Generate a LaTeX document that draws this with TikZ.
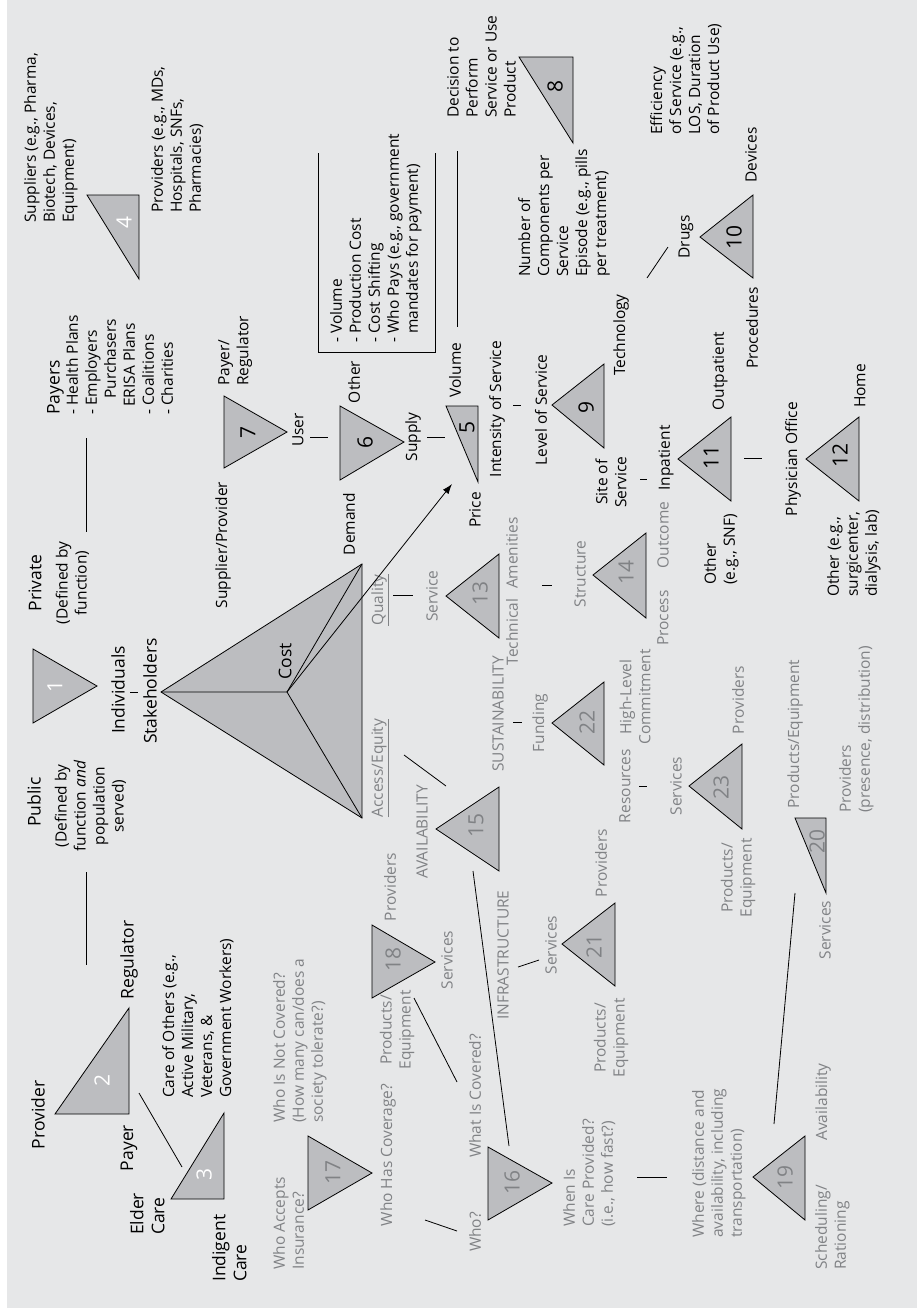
\documentclass[tikz,border=0pt]{standalone}
\usepackage{fontspec}
\setmainfont{Open Sans}
\usetikzlibrary{arrows.meta}
\definecolor{bgc}{HTML}{E6E7E8}
\definecolor{trifill}{HTML}{BCBDC0}
\definecolor{txtgray}{HTML}{808285}
\newcommand\myfn{\fontsize{15.5}{19}\selectfont}
\newcommand\myfb{\fontsize{17.5}{21}\selectfont}
\newcommand\myfnum{\fontsize{21}{25}\selectfont}
\begin{document}
\begin{tikzpicture}[x=1pt,y=-1pt,
  tri/.style={draw=black,fill=trifill,line width=0.8pt,line join=miter},
  ln/.style={draw=black,line width=0.8pt},
  t/.style={rotate=90,inner sep=0pt,font=\myfn,text=black},
  g/.style={t,text=txtgray},
  big/.style={rotate=90,inner sep=0pt,font=\myfb,text=black},
  num/.style={rotate=90,inner sep=0pt,font=\myfnum},
  wn/.style={num,text=white},
  bn/.style={num,text=black},
  gn/.style={num,text=txtgray},
  ml/.style={align=left,anchor=north west},
  mc/.style={align=center}]
\useasboundingbox (0,0) rectangle (917,1315);
\fill[white] (0,0) rectangle (917,1315);
\fill[bgc] (7,0) rectangle (917,1308);

% ---------- triangles ----------
\draw[tri] (33,649) -- (97,686) -- (33,723) -- cycle;
\draw[tri] (55,1114) -- (129,1008) -- (129,1114) -- cycle;
\draw[tri] (171,1199) -- (224,1113) -- (224,1199) -- cycle;
\draw[tri] (87,195) -- (139,195) -- (139,279) -- cycle;
\draw[tri] (446,406) -- (478,406) -- (478,482) -- cycle;
\draw[tri] (340,406) -- (404,442) -- (340,480) -- cycle;
\draw[tri] (224,396) -- (287,432) -- (224,468) -- cycle;
\draw[tri] (519,57) -- (573,57) -- (573,143) -- cycle;
\draw[tri] (552,405) -- (604,364) -- (604,448) -- cycle;
\draw[tri] (700,237) -- (753,195) -- (753,278) -- cycle;
\draw[tri] (678,459) -- (731,417) -- (731,501) -- cycle;
\draw[tri] (806,459) -- (859,417) -- (859,501) -- cycle;
\draw[tri] (446,596) -- (499,554) -- (499,638) -- cycle;
\draw[tri] (593,575) -- (646,533) -- (646,618) -- cycle;
\draw[tri] (436,829) -- (499,787) -- (499,871) -- cycle;
\draw[tri] (488,1147) -- (552,1183) -- (488,1220) -- cycle;
\draw[tri] (308,1136) -- (372,1173) -- (308,1210) -- cycle;
\draw[tri] (372,925) -- (435,962) -- (372,998) -- cycle;
\draw[tri] (753,1177) -- (805,1136) -- (805,1220) -- cycle;
\draw[tri] (795,818) -- (826,818) -- (826,893) -- cycle;
\draw[tri] (562,944) -- (615,903) -- (615,986) -- cycle;
\draw[tri] (552,723) -- (604,682) -- (604,765) -- cycle;
\draw[tri] (689,786) -- (742,744) -- (742,829) -- cycle;

% big cost triangle
\coordinate (bA) at (161,692);
\coordinate (bB) at (362,564);
\coordinate (bC) at (362,818);
\coordinate (bO) at (287,692);
\draw[tri] (bA) -- (bB) -- (bC) -- cycle;
\draw[ln] (bO) -- (bA) (bO) -- (bB) (bO) -- (bC);

% ---------- numbers ----------
\node[wn] (n1) at (55,686) {1};
\node[wn] (n2) at (102,1080) {2};
\node[wn] (n3) at (204,1174) {3};
\node[wn] (n4) at (124,222) {4};
\node[bn] (n5) at (467,427) {5};
\node[bn] (n6) at (365,442) {6};
\node[bn] (n7) at (248,432) {7};
\node[bn] (n8) at (555,86) {8};
\node[bn] (n9) at (586,407) {9};
\node[bn] (n10) at (734,237) {10};
\node[bn] (n11) at (711,457) {11};
\node[bn] (n12) at (840,455) {12};
\node[gn] (n13) at (480,593) {13};
\node[gn] (n14) at (626,572) {14};
\node[gn] (n15) at (476,825) {15};
\node[gn] (n16) at (512,1182) {16};
\node[gn] (n17) at (333,1172) {17};
\node[gn] (n18) at (393,959) {18};
\node[gn] (n19) at (785,1177) {19};
\node[gn] (n20) at (817,841) {20};
\node[gn] (n21) at (594,946) {21};
\node[gn] (n22) at (587,722) {22};
\node[gn] (n23) at (721,787) {23};

% ---------- black texts ----------
\node[t,ml] (sup) at (24,223) {Suppliers (e.g., Pharma,\\Biotech, Devices,\\Equipment)};
\node[t,ml] (prov4) at (151,213) {Providers (e.g., MDs,\\Hospitals, SNFs,\\Pharmacies)};
\node[big,anchor=north west] (payers) at (47,415) {Payers};
\node[t,ml] (payl) at (66,415) {- Health Plans\\- Employers\\\hspace*{16pt}Purchasers\\\hspace*{8pt}ERISA Plans\\- Coalitions\\- Charities};
\node[big] (private) at (35,583) {Private};
\node[t,mc,anchor=north] (privsub) at (35,583) {\strut\\(Defined by\\function)};
\node[big] (public) at (34,802) {Public};
\node[t,mc,anchor=north] (pubsub) at (34,806) {\strut\\(Defined by\\function \textit{and}\\population\\served)};
\node[big] (indiv) at (118,690) {Individuals};
\node[big] (stake) at (150,691) {Stakeholders};
\node[big] (provider) at (38,1115) {Provider};
\node[big] (regul) at (129,960) {Regulator};
\node[big] (payer) at (129,1148) {Payer};
\node[big,ml] (elder) at (130,1235) {Elder\\Care};
\node[big,ml] (indig) at (212,1282) {Indigent\\Care};
\node[t,ml] (careoth) at (162,1098) {Care of Others (e.g.,\\Active Military,\\Veterans, \&\\Government Workers)};
\node[t] (supprov) at (223,545) {Supplier/Provider};
\node[t,ml] (payreg) at (218,386) {Payer/\\Regulator};
\node[t] (user) at (298,430) {User};
\node[t] (other6) at (354,382) {Other};
\node[t] (demand) at (349,524) {Demand};
\node[t] (supply) at (413,437) {Supply};
\node[t] (volume) at (455,370) {Volume};
\node[t] (price) at (475,510) {Price};
\node[t,ml] (boxt) at (330,343) {- Volume\\- Production Cost\\- Cost Shifting\\- Who Pays (e.g., government\\\hspace*{9pt}mandates for payment)};
\node[t,ml] (decis) at (447,118) {Decision to\\Perform\\Service or Use\\Product};
\node[t,ml] (numcomp) at (518,277) {Number of\\Components per\\Service\\Episode (e.g., pills\\per treatment)};
\node[t,ml] (effic) at (650,135) {Efficiency\\of Service (e.g.,\\LOS, Duration\\of Product Use)};
\node[t] (intens) at (497,409) {Intensity of Service};
\node[t] (level) at (541,410) {Level of Service};
\node[t] (techn) at (621,335) {Technology};
\node[t] (drugs) at (686,237) {Drugs};
\node[t] (devices) at (751,155) {Devices};
\node[t] (proced) at (752,328) {Procedures};
\node[t] (outpat) at (720,371) {Outpatient};
\node[t] (inpat) at (666,458) {Inpatient};
\node[t,mc] (site) at (611,482) {Site of\\Service};
\node[t,ml] (othsnf) at (704,585) {Other\\(e.g., SNF)};
\node[t] (phys) at (793,459) {Physician Office};
\node[t] (home) at (860,386) {Home};
\node[t,ml] (othsurg) at (827,597) {Other (e.g.,\\surgicenter,\\dialysis, lab)};
\node[big] (cost) at (285,661) {Cost};

% ---------- gray texts ----------
\node[g] (quality) at (380,600) {\underline{Quality}};
\node[g] (serv13) at (432,596) {Service};
\node[g] (techl) at (512,632) {Technical};
\node[g] (amen) at (512,553) {Amenities};
\node[g] (struct) at (580,574) {Structure};
\node[g] (process) at (663,618) {Process};
\node[g] (outcome) at (663,535) {Outcome};
\node[g] (access) at (380,768) {\underline{Access/Equity}};
\node[g] (avail) at (422,832) {AVAILABILITY};
\node[g] (sustain) at (498,714) {SUSTAINABILITY};
\node[g] (infra) at (503,955) {INFRASTRUCTURE};
\node[g] (funding) at (540,723) {Funding};
\node[g,mc] (highlev) at (635,697) {High-Level\\Commitment};
\node[g] (resour) at (625,786) {Resources};
\node[g] (serv23) at (676,786) {Services};
\node[g] (prov23) at (738,700) {Providers};
\node[g,mc] (prod23) at (738,878) {Products/\\Equipment};
\node[g] (prodeq20) at (795,734) {Products/Equipment};
\node[g,ml] (prov20) at (839,813) {Providers\\(presence, distribution)};
\node[g] (serv20) at (825,930) {Services};
\node[g] (prov18) at (390,887) {Providers};
\node[g] (serv18) at (447,960) {Services};
\node[g,mc] (prod18) at (397,1030) {Products/\\Equipment};
\node[g] (serv21) at (551,945) {Services};
\node[g] (prov21) at (601,863) {Providers};
\node[g,mc] (prod21) at (611,1038) {Products/\\Equipment};
\node[g,ml] (accept) at (273,1270) {Who Accepts\\Insurance?};
\node[g,ml] (notcov) at (273,1123) {Who Is Not Covered?\\(How many can/does a\\society tolerate?)};
\node[g] (hascov) at (388,1155) {Who Has Coverage?};
\node[g] (whatcov) at (475,1096) {What Is Covered?};
\node[g] (who) at (475,1232) {Who?};
\node[g,ml] (when) at (563,1227) {When Is\\Care Provided?\\(i.e., how fast?)};
\node[g,ml] (where) at (692,1238) {Where (distance and\\availability, including\\transportation)};
\node[g] (availb) at (823,1102) {Availability};
\node[g,ml] (sched) at (815,1270) {Scheduling/\\Rationing};

% ---------- connectors ----------
\coordinate (a1) at (86,438);  \coordinate (a2) at (86,532);
\coordinate (b1) at (86,872);  \coordinate (b2) at (86,965);
\coordinate (c1) at (139,1093); \coordinate (c2) at (182,1167);
\coordinate (d1) at (310,437); \coordinate (d2) at (328,437);
\coordinate (e1) at (427,437); \coordinate (e2) at (445,437);
\coordinate (f1) at (513,405); \coordinate (f2) at (521,405);
\coordinate (h1) at (647,278); \coordinate (h2) at (668,247);
\coordinate (i1) at (457,151); \coordinate (i2) at (457,327);
\coordinate (k1) at (393,595); \coordinate (k2) at (413,595);
\coordinate (m1) at (542,585); \coordinate (m2) at (552,585);
\coordinate (o1) at (640,479); \coordinate (o2) at (647,479);
\coordinate (p1) at (744,458); \coordinate (p2) at (762,458);
\coordinate (q1) at (130,692); \coordinate (q2) at (138,692);
\coordinate (r1) at (404,755); \coordinate (r2) at (446,786);
\coordinate (s1) at (513,722); \coordinate (s2) at (522,722);
\coordinate (u1) at (473,871); \coordinate (u2) at (509,1146);
\coordinate (v1) at (518,967); \coordinate (v2) at (539,960);
\coordinate (w1) at (639,786); \coordinate (w2) at (647,786);
\coordinate (x1) at (795,893); \coordinate (x2) at (774,1124);
\coordinate (y1) at (414,998); \coordinate (y2) at (457,1082);
\coordinate (z1) at (425,1220); \coordinate (z2) at (457,1231);
\coordinate (zz1) at (637,1177); \coordinate (zz2) at (667,1177);
\coordinate (arE) at (452,484);
\draw[ln] (a1) -- (a2);
\draw[ln] (b1) -- (b2);
\draw[ln] (c1) -- (c2);
\draw[ln] (d1) -- (d2);
\draw[ln] (e1) -- (e2);
\draw[ln] (f1) -- (f2);
\draw[ln] (h1) -- (h2);
\draw[ln] (i1) -- (i2);
\draw[ln] (k1) -- (k2);
\draw[ln] (m1) -- (m2);
\draw[ln] (o1) -- (o2);
\draw[ln] (p1) -- (p2);
\draw[ln] (q1) -- (q2);
\draw[ln] (r1) -- (r2);
\draw[ln] (s1) -- (s2);
\draw[ln] (u1) -- (u2);
\draw[ln] (v1) -- (v2);
\draw[ln] (w1) -- (w2);
\draw[ln] (x1) -- (x2);
\draw[ln] (y1) -- (y2);
\draw[ln] (z1) -- (z2);
\draw[ln] (zz1) -- (zz2);
% bracket box
\coordinate (bx1) at (318,153); \coordinate (bx2) at (318,352);
\coordinate (bx3) at (435,352); \coordinate (bx4) at (435,153);
\draw[ln] (bx1) -- (bx2) -- (bx3) -- (bx4);
% arrow
\draw[ln,-{Latex[length=10pt,width=7pt]}] (bO) -- (arE);
\end{tikzpicture}
\end{document}
